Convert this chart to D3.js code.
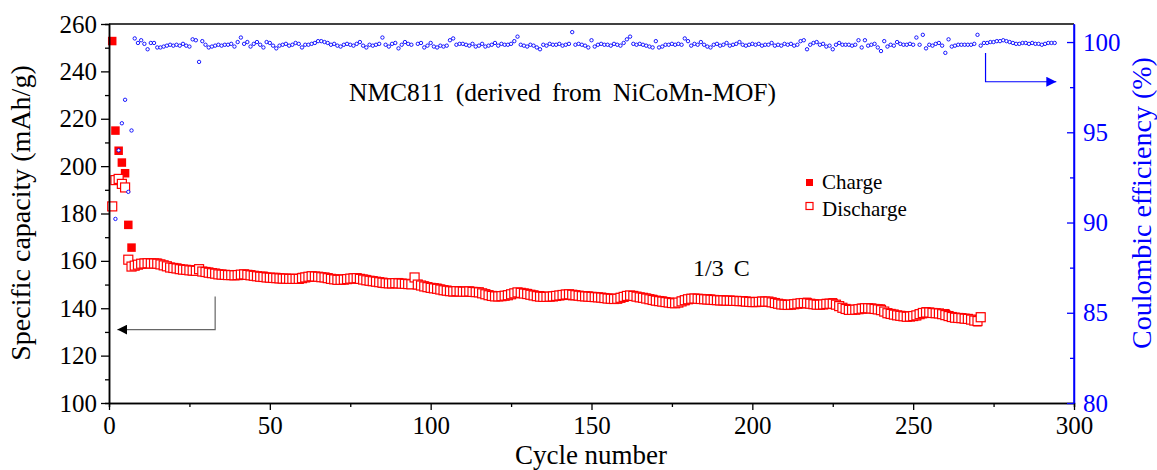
<!DOCTYPE html>
<html>
<head>
<meta charset="utf-8">
<script src="https://cdn.jsdelivr.net/npm/d3@7"></script>
<style>
  body { margin: 0; background: #fff; }
  svg { display: block; }
  text { font-family: "Liberation Serif", "Times New Roman", serif; }
</style>
</head>
<body>
<div id="graph"></div>
<script>
// discharge capacity (mAh/g), cycle 1..271
var discharge = [
  183.0, 194.1, 194.6, 192.5, 191.0, 160.5, 157.6, 158.0, 158.4, 158.8,
  158.9, 159.0, 158.9, 158.9, 158.8, 158.5, 158.1, 157.7, 157.2, 157.0,
  156.8, 156.5, 156.3, 156.2, 156.0, 155.9, 155.8, 156.5, 155.5, 155.3,
  155.0, 154.8, 154.6, 154.3, 154.2, 154.1, 154.0, 154.0, 153.9, 154.0,
  154.2, 154.3, 154.1, 153.9, 153.7, 153.5, 153.3, 153.2, 153.0, 152.9,
  152.8, 152.7, 152.6, 152.5, 152.5, 152.4, 152.4, 152.4, 152.4, 152.7,
  153.0, 153.3, 153.5, 153.4, 153.3, 153.1, 153.0, 152.7, 152.4, 152.2,
  152.0, 152.0, 152.1, 152.3, 152.5, 152.6, 152.7, 152.4, 152.1, 151.8,
  151.6, 151.4, 151.2, 151.0, 150.8, 150.6, 150.5, 150.5, 150.6, 150.5,
  150.4, 150.3, 150.2, 150.1, 153.0, 150.0, 149.6, 149.2, 148.9, 148.6,
  148.4, 148.2, 147.9, 147.6, 147.4, 147.2, 147.1, 147.2, 147.1, 147.0,
  147.0, 147.1, 146.9, 146.8, 146.7, 146.3, 145.9, 145.5, 145.2, 145.0,
  145.0, 145.1, 145.3, 145.5, 145.9, 146.3, 146.7, 146.5, 146.2, 146.0,
  145.7, 145.4, 145.1, 144.9, 144.8, 144.8, 144.9, 145.0, 145.2, 145.4,
  145.6, 145.8, 145.9, 145.7, 145.5, 145.3, 145.1, 145.0, 144.9, 144.8,
  144.7, 144.6, 144.5, 144.3, 144.1, 144.0, 143.9, 144.0, 144.4, 144.8,
  145.2, 145.4, 145.2, 144.9, 144.6, 144.4, 144.1, 143.8, 143.5, 143.2,
  143.0, 142.8, 142.6, 142.4, 142.2, 142.1, 142.4, 142.9, 143.4, 143.8,
  144.0, 144.1, 144.0, 143.9, 143.8, 143.7, 143.6, 143.5, 143.4, 143.3,
  143.3, 143.2, 143.2, 143.1, 143.1, 143.0, 143.0, 142.8, 142.7, 142.6,
  142.6, 142.7, 142.8, 142.8, 142.8, 142.5, 142.2, 141.9, 141.6, 141.5,
  141.4, 141.5, 141.7, 141.9, 142.1, 142.2, 142.1, 141.9, 141.7, 141.5,
  141.5, 141.6, 141.8, 141.9, 141.9, 141.5, 140.9, 140.2, 139.7, 139.3,
  139.3, 139.4, 139.6, 139.8, 140.0, 140.0, 139.9, 139.7, 139.5, 139.2,
  138.6, 137.9, 137.6, 137.3, 137.0, 136.8, 136.6, 136.4, 136.5, 136.7,
  137.0, 137.5, 138.0, 138.2, 138.2, 138.0, 137.9, 137.8, 137.5, 137.1,
  136.7, 136.3, 136.0, 135.9, 135.8, 135.6, 135.5, 135.2, 134.8, 134.6,
  136.2
];

// charge capacity (mAh/g), cycle 1..271
var charge = [
  252.8, 215.0, 206.5, 201.5, 197.0, 175.2, 165.6, 157.8, 158.5, 158.7,
  159.1, 159.4, 159.0, 159.1, 159.2, 158.7, 158.3, 157.9, 157.4, 157.3,
  157.0, 156.8, 156.5, 156.5, 156.4, 155.7, 155.6, 156.6, 155.4, 155.6,
  155.4, 155.1, 154.9, 154.5, 154.5, 154.3, 154.2, 154.2, 154.3, 154.0,
  153.8, 154.5, 154.1, 154.3, 153.9, 153.5, 153.5, 153.7, 153.0, 153.0,
  153.1, 153.2, 152.9, 152.7, 152.7, 152.7, 152.6, 152.5, 152.5, 153.2,
  153.2, 153.5, 153.7, 153.5, 153.2, 153.0, 153.0, 152.8, 152.6, 152.4,
  152.3, 152.4, 152.3, 152.5, 152.7, 152.9, 152.8, 152.4, 152.4, 152.3,
  151.8, 151.7, 151.4, 151.2, 150.4, 150.8, 150.9, 150.7, 150.7, 151.0,
  150.6, 150.3, 150.4, 150.3, 152.8, 150.2, 149.7, 149.6, 149.2, 148.7,
  148.8, 148.6, 148.2, 148.0, 147.7, 147.0, 146.8, 147.4, 147.2, 147.1,
  147.2, 147.4, 147.0, 147.2, 147.0, 146.4, 146.3, 145.8, 145.4, 145.1,
  145.3, 145.2, 145.5, 145.7, 146.0, 146.2, 146.3, 146.7, 146.5, 146.4,
  145.9, 145.7, 145.5, 145.5, 145.0, 145.1, 145.0, 145.2, 145.4, 145.5,
  145.9, 146.0, 146.0, 145.1, 145.7, 145.4, 145.3, 145.3, 145.3, 144.7,
  145.1, 144.8, 144.6, 144.5, 144.3, 144.3, 144.0, 144.2, 144.7, 144.9,
  145.0, 145.0, 145.3, 145.1, 144.7, 144.6, 144.4, 144.2, 143.9, 143.1,
  143.4, 143.2, 142.8, 142.6, 142.3, 142.3, 142.5, 143.1, 143.1, 143.7,
  144.3, 144.2, 144.2, 143.9, 144.0, 144.1, 144.0, 143.7, 143.5, 143.6,
  143.5, 143.3, 143.5, 143.3, 143.2, 143.0, 143.2, 143.1, 142.9, 142.7,
  142.8, 142.8, 143.1, 143.0, 143.0, 142.6, 142.5, 142.1, 141.9, 141.6,
  141.6, 141.6, 142.0, 142.1, 142.0, 142.1, 142.7, 142.1, 141.8, 141.5,
  141.7, 141.7, 142.2, 142.2, 142.5, 141.7, 141.0, 140.4, 139.9, 139.5,
  139.6, 139.6, 139.5, 140.2, 139.9, 140.3, 140.1, 139.8, 139.9, 139.9,
  138.5, 138.2, 137.8, 137.6, 137.0, 137.0, 136.8, 136.6, 136.6, 136.9,
  136.7, 137.7, 137.5, 138.7, 138.4, 138.3, 138.0, 137.9, 137.8, 137.9,
  136.5, 136.6, 136.3, 136.1, 136.0, 135.8, 135.7, 135.4, 134.9, 134.1,
  136.5
];

// coulombic efficiency (%), cycle 2..294 (null = not shown)
var ceStart = 2;
var efficiency = [
  90.2, 94.0, 95.5, 96.8, 91.7, 95.1,
  100.2, 99.95, 100.1, 99.9, 99.6, 99.95, 99.95, 99.7, 99.7, 99.75,
  99.8, 99.85, 99.8, 99.85, 99.8, 99.9, 99.8, 99.75, 100.15, 100.1,
  98.9,
  100.05, 99.85, 99.7, 99.75, 99.8, 99.85, 99.8, 99.85, 99.85, 99.9,
  99.75, 100.0, 100.25, 99.9, 100.0, 99.75, 99.9, 100.0, 99.85, 99.7,
  100.0, 99.95, 99.8, 99.65, 99.8, 99.85, 99.9, 99.8, 99.85, 99.95,
  99.9, 99.7, 99.85, 99.85, 99.9, 99.95, 100.05, 100.05, 100.0, 99.95,
  99.85, 99.9, 99.8, 99.75, 99.85, 99.9, 99.85, 99.8, 99.9, 100.0,
  99.8, 99.7, 99.85, 99.8, 99.85, 99.9, 100.25, 99.85, 99.75, 99.9,
  99.95, 99.65, 99.85, 100.0, 99.9, 99.85, null, 99.9, 99.95, 99.7,
  99.8, 99.95, 99.75, 99.7, 99.8, 99.75, 99.8, 100.1, 100.2, 99.85,
  99.9, 99.9, 99.85, 99.8, 99.9, 99.75, 99.8, 99.9, 99.75, 99.8,
  99.85, 99.95, 99.8, 99.9, 99.85, 99.85, 99.9, 100.05, 100.3, 99.85,
  99.8, 99.75, 99.85, 99.8, 99.7, 99.6, 99.85, 99.8, 99.9, 99.85,
  99.85, 99.9, 99.8, 99.85, 99.9, 100.55, 99.85, 99.9, 99.85, 99.8,
  99.7, 100.1, 99.75, 99.85, 99.9, 99.85, 99.85, 99.8, 99.9, 99.85,
  99.8, 99.95, 100.15, 100.3, 99.9, 99.85, 99.9, 99.85, 99.8, 99.75,
  99.7, 100.05, 99.7, 99.75, 99.85, 99.85, 99.9, 99.85, 99.9, 99.85,
  100.2, 100.05, 99.8, 99.9, 99.85, 100.0, 99.85, 99.75, 99.7, 99.85,
  99.9, 99.8, 99.85, 99.95, 99.8, 99.85, 99.9, 100.0, 99.85, 99.8,
  99.85, 99.9, 99.85, 99.9, 99.8, 99.85, 99.85, 99.95, 99.8, 99.85,
  99.8, 99.9, 99.85, 99.9, 99.8, 99.85, 100.05, 100.1, 99.6, 99.85,
  99.95, 100.0, 99.85, 99.9, 99.75, 99.8, 99.6, 99.85, 99.95, 99.85,
  99.85, 99.85, 99.8, 99.85, 100.1, 99.7, 100.1, 99.8, 99.85, 99.9,
  99.7, 99.5, 100.05, 99.75, 99.85, 99.8, 100.0, 99.9, 99.85, 99.85,
  99.9, 99.85, 100.25, 99.85, 100.4, 99.65, 99.85, 99.8, 99.9, 99.95,
  99.8, 99.4, 100.15, 99.75, 99.8, 99.85, 99.85, 99.85, 99.85, 99.85,
  99.9, 100.4, 99.8, 99.95, 99.95, 100.0, 100.0, 100.05, 100.05, 100.1,
  100.05, 100.0, 99.95, 99.9, 99.9, 99.95, 99.95, 99.9, 99.95, 99.9,
  99.9, 99.85, 99.9, 99.95, 99.95, 99.95
];

var xTicks = [0, 50, 100, 150, 200, 250, 300];
var leftTicks = [100, 120, 140, 160, 180, 200, 220, 240, 260];
var rightTicks = [80, 85, 90, 95, 100];
var legendItems = ["Charge", "Discharge"];

var FONT = '"Liberation Serif", "Times New Roman", serif';
var width = 1157, height = 470;
var plot = {left: 109, right: 1074, top: 24, bottom: 403};

var x = d3.scaleLinear().domain([0, 300]).range([plot.left, plot.right]);
var yL = d3.scaleLinear().domain([100, 260]).range([plot.bottom, plot.top]);
var yR = d3.scaleLinear().domain([80, 101]).range([plot.bottom, plot.top]);

var svg = d3.select("#graph").append("svg")
    .attr("width", width)
    .attr("height", height);

svg.append("rect").attr("width", width).attr("height", height).attr("fill", "#fff");

// data
var chargePts = charge.map(function(v, i) { return {c: i + 1, v: v}; });
var dischargePts = discharge.map(function(v, i) { return {c: i + 1, v: v}; });
var cePts = efficiency.map(function(v, i) { return {c: i + ceStart, v: v}; })
    .filter(function(d) { return d.v != null; });

var sq = 8.5;
svg.append("g").selectAll("rect")
    .data(chargePts)
  .enter().append("rect")
    .attr("x", function(d) { return x(d.c) - sq / 2; })
    .attr("y", function(d) { return yL(d.v) - sq / 2; })
    .attr("width", sq).attr("height", sq)
    .attr("fill", "#ff0000");

var osq = 9;
svg.append("g").selectAll("rect")
    .data(dischargePts)
  .enter().append("rect")
    .attr("x", function(d) { return x(d.c) - osq / 2; })
    .attr("y", function(d) { return yL(d.v) - osq / 2; })
    .attr("width", osq).attr("height", osq)
    .attr("fill", "#fff")
    .attr("stroke", "#ff0000")
    .attr("stroke-width", 1.2);

svg.append("g").selectAll("circle")
    .data(cePts)
  .enter().append("circle")
    .attr("cx", function(d) { return x(d.c); })
    .attr("cy", function(d) { return yR(d.v); })
    .attr("r", 1.7)
    .attr("fill", "#fff")
    .attr("stroke", "#0000ff")
    .attr("stroke-width", 0.9);

// frame + axes
svg.append("line")
    .attr("x1", plot.left).attr("x2", plot.right)
    .attr("y1", plot.top).attr("y2", plot.top)
    .attr("stroke", "#000").attr("stroke-width", 1.5);

function styleAxis(g, color) {
  g.selectAll("path.domain").attr("stroke", color).attr("stroke-width", 1.5);
  g.selectAll(".tick line").attr("stroke", color).attr("stroke-width", 1.3);
  g.selectAll("text")
      .attr("fill", color)
      .style("font-family", FONT)
      .style("font-size", "25px");
}

// bottom
var xMinor = svg.append("g")
    .attr("transform", "translate(0," + plot.bottom + ")")
    .call(d3.axisBottom(x).tickValues([25, 75, 125, 175, 225, 275]).tickSize(4).tickFormat(""));
styleAxis(xMinor, "#000");
var xAxis = svg.append("g")
    .attr("transform", "translate(0," + plot.bottom + ")")
    .call(d3.axisBottom(x).tickValues(xTicks).tickSizeInner(7).tickSizeOuter(0).tickPadding(6));
styleAxis(xAxis, "#000");

// left
var yMinor = svg.append("g")
    .attr("transform", "translate(" + plot.left + ",0)")
    .call(d3.axisLeft(yL).tickValues([110, 130, 150, 170, 190, 210, 230, 250]).tickSize(4).tickFormat(""));
styleAxis(yMinor, "#000");
var yAxis = svg.append("g")
    .attr("transform", "translate(" + plot.left + ",0)")
    .call(d3.axisLeft(yL).tickValues(leftTicks).tickSizeInner(8).tickSizeOuter(0).tickPadding(4));
styleAxis(yAxis, "#000");

// right
var rMinor = svg.append("g")
    .attr("transform", "translate(" + plot.right + ",0)")
    .call(d3.axisRight(yR).tickValues([82.5, 87.5, 92.5, 97.5]).tickSizeInner(-4).tickSizeOuter(0).tickFormat(""));
styleAxis(rMinor, "#0000ff");
var rAxis = svg.append("g")
    .attr("transform", "translate(" + plot.right + ",0)")
    .call(d3.axisRight(yR).tickValues(rightTicks).tickSizeInner(-7).tickSizeOuter(0).tickPadding(9));
styleAxis(rAxis, "#0000ff");
rAxis.select("path.domain").attr("d", "M0," + plot.bottom + "V" + plot.top);

// axis titles
svg.append("text")
    .attr("transform", "translate(" + 30 + "," + 213 + ") rotate(-90)")
    .attr("text-anchor", "middle")
    .style("font-size", "28px")
    .text("Specific capacity (mAh/g)");

svg.append("text")
    .attr("transform", "translate(" + 1151 + "," + 203 + ") rotate(-90)")
    .attr("text-anchor", "middle")
    .attr("fill", "#0000ff")
    .style("font-size", "28px")
    .text("Coulombic efficiency (%)");

svg.append("text")
    .attr("x", 591).attr("y", 464)
    .attr("text-anchor", "middle")
    .style("font-size", "27px")
    .text("Cycle number");

// annotations
svg.append("text")
    .attr("x", 349).attr("y", 101)
    .style("font-size", "25.5px")
    .style("word-spacing", "5px")
    .text("NMC811 (derived from NiCoMn-MOF)");

svg.append("text")
    .attr("x", 693).attr("y", 276)
    .style("font-size", "24px")
    .style("word-spacing", "4px")
    .text("1/3 C");

// legend
var legend = svg.append("g");
legend.append("rect").attr("x", 806).attr("y", 179).attr("width", 7).attr("height", 7).attr("fill", "#ff0000");
legend.append("rect").attr("x", 806).attr("y", 202.5).attr("width", 7).attr("height", 7)
    .attr("fill", "#fff").attr("stroke", "#ff0000").attr("stroke-width", 1.2);
legend.selectAll("text.leg")
    .data(legendItems)
  .enter().append("text")
    .attr("class", "leg")
    .attr("x", 822)
    .attr("y", function(d, i) { return 189 + i * 27; })
    .style("font-size", "21px")
    .text(function(d) { return d; });

// arrows
var defs = svg.append("defs");
defs.append("marker").attr("id", "headK")
    .attr("viewBox", "0 0 10 10").attr("refX", 10).attr("refY", 5)
    .attr("markerWidth", 10).attr("markerHeight", 10)
    .attr("markerUnits", "userSpaceOnUse").attr("orient", "auto")
  .append("path").attr("d", "M0,0L10,5L0,10Z").attr("fill", "#000");
defs.append("marker").attr("id", "headB")
    .attr("viewBox", "0 0 10 10").attr("refX", 10).attr("refY", 5)
    .attr("markerWidth", 11).attr("markerHeight", 10)
    .attr("markerUnits", "userSpaceOnUse").attr("orient", "auto")
  .append("path").attr("d", "M0,0L10,5L0,10Z").attr("fill", "#0000ff");

svg.append("path")
    .attr("d", "M" + x(33) + "," + yL(145) + "V" + yL(131) + "H" + x(2.6))
    .attr("fill", "none").attr("stroke", "#666").attr("stroke-width", 1.2)
    .attr("marker-end", "url(#headK)");

svg.append("path")
    .attr("d", "M" + x(272.5) + "," + yR(99.4) + "V" + yR(97.8) + "H" + x(294.5))
    .attr("fill", "none").attr("stroke", "#0000ff").attr("stroke-width", 1.2)
    .attr("marker-end", "url(#headB)");
</script>
</body>
</html>
